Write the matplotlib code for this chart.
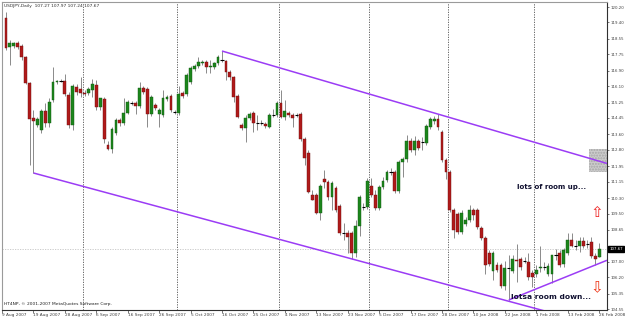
import matplotlib
import numpy as np

matplotlib.use("Agg")
import matplotlib.pyplot as plt
import matplotlib.transforms as mtransforms
from matplotlib.patches import Rectangle

# USDJPY daily bars, Aug 2007 - Feb 2008
opens = [119.63, 118.13, 118.18, 118.33, 118.18, 117.61, 116.26, 114.45, 114.09, 113.83,
         114.81, 114.19, 115.38, 116.31, 116.36, 116.36, 115.64, 114.09, 116.05, 115.95,
         115.74, 115.74, 115.90, 116.16, 115.02, 115.43, 113.05, 112.84, 113.67, 114.34,
         114.19, 114.71, 115.22, 115.22, 115.07, 116.00, 115.95, 114.65, 115.12, 114.65,
         114.60, 115.43, 115.59, 114.76, 114.71, 115.74, 115.69, 116.31, 116.99, 117.14,
         117.30, 117.35, 117.09, 117.09, 117.30, 117.45, 117.40, 116.83, 116.57, 115.59,
         114.09, 113.93, 114.45, 114.71, 114.19, 114.19, 114.14, 113.98, 114.60, 114.60,
         115.22, 114.50, 114.71, 114.60, 114.60, 114.65, 113.36, 112.63, 110.46, 110.46,
         109.53, 111.29, 111.13, 110.36, 110.82, 109.89, 108.49, 108.49, 108.49, 107.45,
         108.85, 109.84, 109.84, 110.93, 110.46, 109.79, 110.87, 111.24, 111.65, 111.65,
         110.67, 112.17, 112.32, 113.26, 112.79, 113.26, 113.20, 113.15, 113.98, 114.29,
         114.40, 113.72, 112.27, 111.65, 109.68, 109.47, 108.54, 108.96, 109.16, 109.68,
         109.68, 108.75, 108.23, 107.45, 106.52, 106.83, 106.83, 105.75, 106.68, 106.52,
         107.09, 107.14, 107.04, 106.99, 106.42, 106.37, 106.68, 106.73, 106.37, 106.37,
         107.35, 107.45, 106.88, 107.45, 108.13, 107.82, 107.82, 108.08, 107.92, 108.02,
         107.30, 107.27]
highs = [119.94, 118.49, 118.38, 118.44, 118.28, 117.66, 116.31, 114.86, 114.50, 114.91,
         115.22, 115.48, 117.09, 116.42, 116.47, 116.73, 115.79, 116.21, 116.21, 116.57,
         115.90, 116.05, 116.47, 116.42, 115.48, 115.54, 113.26, 113.98, 114.45, 114.45,
         115.48, 115.38, 115.33, 115.33, 116.31, 116.11, 116.05, 115.64, 115.22, 114.97,
         115.90, 115.64, 115.69, 114.86, 116.11, 115.85, 116.78, 117.14, 117.24, 117.61,
         117.45, 117.45, 117.45, 117.35, 117.71, 117.92, 117.45, 116.93, 116.62, 115.69,
         114.19, 114.60, 114.76, 114.81, 114.60, 114.34, 114.24, 114.71, 114.91, 115.33,
         115.90, 115.38, 114.81, 114.71, 114.71, 114.76, 113.46, 112.79, 110.72, 110.56,
         111.03, 111.75, 111.24, 111.18, 110.93, 109.99, 109.01, 108.65, 108.59, 109.16,
         110.46, 110.05, 111.34, 111.34, 110.72, 110.98, 111.39, 111.75, 111.86, 111.75,
         112.27, 112.43, 113.57, 113.41, 113.51, 113.36, 113.46, 114.14, 114.50, 114.55,
         114.65, 113.83, 112.38, 111.75, 109.79, 109.58, 109.68, 109.32, 109.94, 109.79,
         109.79, 108.85, 108.33, 107.61, 107.56, 106.99, 106.94, 107.04, 107.35, 107.35,
         107.92, 107.25, 107.25, 107.45, 106.57, 106.83, 107.82, 106.99, 106.94, 107.35,
         107.66, 107.61, 107.71, 108.49, 108.49, 108.13, 108.28, 108.28, 108.13, 108.28,
         107.45, 107.97]
lows = [117.97, 117.19, 118.07, 118.02, 117.45, 116.21, 112.01, 111.60, 113.98, 113.67,
        113.98, 113.98, 115.28, 116.21, 116.31, 115.59, 113.93, 113.83, 115.64, 115.54,
        115.59, 115.64, 115.54, 114.86, 114.86, 113.15, 112.79, 112.63, 113.57, 114.03,
        114.09, 114.65, 115.12, 114.65, 114.97, 115.69, 113.98, 114.55, 114.86, 113.98,
        114.50, 115.33, 114.76, 114.65, 114.60, 115.48, 115.59, 116.21, 116.88, 117.04,
        117.19, 116.78, 116.78, 116.99, 117.19, 117.35, 116.42, 116.42, 115.28, 114.45,
        113.83, 113.20, 114.34, 113.72, 113.83, 114.09, 113.93, 113.93, 114.50, 114.50,
        114.45, 114.34, 114.50, 113.98, 114.50, 113.26, 112.01, 110.56, 110.20, 109.47,
        109.16, 110.82, 110.20, 109.68, 109.58, 108.39, 108.13, 107.45, 107.15, 107.25,
        108.33, 109.68, 109.73, 110.36, 109.68, 109.68, 110.77, 111.13, 111.50, 110.56,
        110.56, 111.39, 112.17, 112.69, 112.53, 112.79, 112.79, 113.05, 113.88, 114.14,
        113.83, 112.17, 111.29, 109.58, 108.23, 108.44, 108.44, 108.85, 109.06, 109.16,
        108.70, 108.13, 106.37, 106.78, 106.06, 106.47, 105.64, 105.54, 105.02, 106.42,
        105.95, 106.57, 106.94, 106.06, 105.69, 106.21, 106.47, 106.57, 106.26, 105.90,
        107.09, 106.73, 106.73, 107.35, 107.77, 107.61, 107.51, 107.71, 107.71, 107.20,
        106.83, 107.24]
closes = [118.07, 118.33, 118.33, 118.13, 117.61, 116.26, 114.40, 114.29, 114.40, 114.81,
          114.19, 115.28, 116.31, 116.36, 116.36, 115.69, 114.09, 116.11, 115.79, 115.74,
          115.69, 115.95, 116.21, 115.02, 115.48, 113.36, 112.84, 113.88, 114.34, 114.19,
          114.71, 115.28, 115.22, 115.07, 116.00, 115.79, 114.65, 115.54, 114.97, 114.86,
          115.48, 115.54, 114.86, 114.76, 115.69, 115.59, 116.68, 117.04, 117.14, 117.35,
          117.35, 117.09, 117.14, 117.30, 117.61, 117.45, 116.83, 116.57, 115.54, 114.50,
          113.93, 114.45, 114.65, 114.19, 114.19, 114.19, 114.03, 114.60, 114.60, 115.22,
          114.50, 114.81, 114.60, 114.45, 114.60, 113.36, 112.38, 110.61, 110.20, 109.53,
          110.93, 111.13, 110.36, 111.08, 109.68, 108.49, 108.49, 108.28, 107.45, 108.85,
          110.36, 109.84, 111.18, 110.46, 109.79, 110.87, 111.18, 111.65, 111.65, 110.67,
          112.17, 112.32, 113.26, 112.79, 113.26, 112.89, 113.20, 114.03, 114.40, 114.40,
          113.98, 112.27, 111.65, 109.68, 108.65, 108.54, 109.53, 109.16, 109.68, 109.42,
          108.80, 108.23, 106.83, 106.88, 107.45, 106.57, 105.75, 106.68, 106.68, 107.14,
          107.04, 106.73, 107.04, 106.21, 106.21, 106.57, 106.73, 106.73, 106.78, 107.35,
          107.35, 106.83, 107.61, 108.13, 107.82, 107.82, 108.08, 107.82, 107.92, 107.30,
          107.14, 107.67]

month_starts = [20, 44, 70, 93, 113, 135]
date_labels = ["9 Aug 2007", "19 Aug 2007", "28 Aug 2007", "6 Sep 2007", "16 Sep 2007",
               "26 Sep 2007", "5 Oct 2007", "16 Oct 2007", "25 Oct 2007", "4 Nov 2007",
               "13 Nov 2007", "23 Nov 2007", "5 Dec 2007", "17 Dec 2007", "28 Dec 2007",
               "10 Jan 2008", "22 Jan 2008", "1 Feb 2008", "13 Feb 2008", "26 Feb 2008"]
price_ticks = [120.20, 119.40, 118.55, 117.75, 116.90, 116.10, 115.25, 114.45, 113.60, 112.80,
               111.95, 111.15, 110.30, 109.50, 108.65, 107.00, 106.20, 105.35, 104.55]
last_price = 107.67

# trendline anchors: (bar a, bar b)
upper_anchor = (55, 110)    # through highs
lower_anchor = (7, 88)      # through lows
support_anchor = (128, 150)  # through lows
box_low, box_high = 111.65, 112.84

BULL = "#1c861c"
BEAR = "#b01a1a"
PURPLE = "#9b3cf5"


def main() -> None:
    o = np.array(opens)
    h = np.array(highs)
    lo = np.array(lows)
    c = np.array(closes)
    idx = np.arange(len(o))
    x_end = len(o) + 1.0

    fig = plt.figure(figsize=(6.25, 3.19), dpi=100)
    ax = fig.add_axes([2 / 625, 9 / 319, 605 / 625, 308 / 319])
    ax.set_xlim(-0.25, x_end)
    ax.set_ylim(104.50, 120.46)

    # month separators and bid line
    for m in month_starts:
        ax.axvline(m - 0.5, color="#505050", lw=0.6, ls=(0, (1.5, 1.5)), zorder=1)
    ax.axhline(last_price, color="#c4c4c4", lw=0.6, ls=(0, (1.5, 1.5)), zorder=1)

    # candles
    ax.vlines(idx, lo, h, color="#8a8a8a", lw=0.7, zorder=2)
    up = c > o
    dn = c < o
    flat = c == o
    bottom = np.minimum(o, c)
    height = np.abs(c - o)
    ax.bar(idx[up], height[up], bottom=bottom[up], width=0.72, color=BULL,
           edgecolor="#0e560e", lw=0.3, zorder=3)
    ax.bar(idx[dn], height[dn], bottom=bottom[dn], width=0.72, color=BEAR,
           edgecolor="#6e0c0c", lw=0.3, zorder=3)
    ax.hlines(c[flat], idx[flat] - 0.4, idx[flat] + 0.4, color="black", lw=0.8, zorder=3)

    # grey box
    ax.add_patch(Rectangle((len(o) - 3.5, box_low), 6, box_high - box_low,
                           facecolor="#cccccc", edgecolor="#a6a6a6", hatch="......",
                           lw=0, zorder=2))

    # trend lines
    def ray(anchor, vals):
        a, b = anchor
        slope = (vals[b] - vals[a]) / (b - a)
        return [a, x_end], [vals[a], vals[a] + slope * (x_end - a)]

    for anchor, vals in [(upper_anchor, h), (lower_anchor, lo), (support_anchor, lo)]:
        xs, ys = ray(anchor, vals)
        ax.plot(xs, ys, color=PURPLE, lw=1.1, zorder=4, solid_capstyle="butt")

    # annotations
    ax.text(130.2, 110.87, "lots of room up...", fontsize=5, fontweight="bold",
            color="#101030", va="center", ha="left", zorder=5)
    ax.text(128.5, 105.18, "lotsa room down...", fontsize=5.4, fontweight="bold",
            color="#101030", va="center", ha="left", zorder=5)
    ax.text(150.5, 109.53, "\u21e7", fontsize=11, color="#ee2020", ha="center",
            va="center", zorder=5)
    ax.text(150.5, 105.64, "\u21e9", fontsize=11, color="#ee3010", ha="center",
            va="center", zorder=5)

    ax.text(0.003, 0.995, "USDJPY,Daily  107.27 107.97 107.24 107.67", transform=ax.transAxes,
            fontsize=3.2, color="#303030", va="top", ha="left")
    ax.text(0.003, 0.012, "HT4NP, \u00a9 2001-2007 MetaQuotes Software Corp.",
            transform=ax.transAxes, fontsize=3.2, color="#202020", va="bottom", ha="left")

    # axes
    ax.yaxis.tick_right()
    ax.set_yticks(price_ticks)
    ax.set_yticklabels([f"{v:.2f}" for v in price_ticks])
    ax.tick_params(axis="y", labelsize=2.8, length=1.5, width=0.5, pad=0.8,
                   colors="#404040")
    ax.set_xticks([-1 + 8 * k for k in range(len(date_labels))])
    ax.set_xticklabels(date_labels)
    for t in ax.get_xticklabels():
        t.set_horizontalalignment("left")
    ax.tick_params(axis="x", labelsize=3.1, length=2, width=0.5, pad=0.4,
                   colors="#404040")

    for side in ["top", "left"]:
        ax.spines[side].set_color("#9a9a9a")
        ax.spines[side].set_linewidth(0.8)
    for side in ["right", "bottom"]:
        ax.spines[side].set_color("#303030")
        ax.spines[side].set_linewidth(0.8)

    trans = mtransforms.blended_transform_factory(ax.transAxes, ax.transData)
    ax.text(1.004, last_price, f"{last_price:.2f}", transform=trans, fontsize=2.8,
            color="white", va="center", ha="left", clip_on=False, zorder=6,
            bbox=dict(facecolor="black", edgecolor="black", pad=0.8))

    fig.savefig("out.png", dpi=100, facecolor="white")
    plt.close(fig)


if __name__ == "__main__":
    main()
